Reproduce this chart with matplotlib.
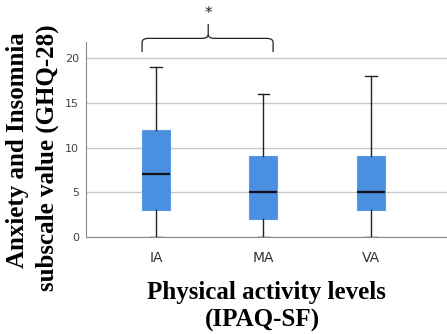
import numpy as np
import matplotlib
matplotlib.use("Agg")
import matplotlib.pyplot as plt
from matplotlib.path import Path
from matplotlib.patches import PathPatch

groups = ["IA", "MA", "VA"]
whisk_lo = [0, 0, 0]
q1 = [3, 2, 3]
med = [7, 5, 5]
q3 = [12, 9, 9]
whisk_hi = [19, 16, 18]

stats = []
for g, lo, a, m, b, hi in zip(groups, whisk_lo, q1, med, q3, whisk_hi):
    stats.append(dict(label=g, whislo=lo, q1=a, med=m, q3=b, whishi=hi, fliers=[]))

fig = plt.figure(figsize=(4.47, 3.34), dpi=100)
ax = fig.add_axes([0.192, 0.2904, 0.808, 0.584])

ax.bxp(stats, positions=[0, 1, 2], widths=0.26, patch_artist=True,
       boxprops=dict(facecolor="#4A8FE0", edgecolor="#5A9AE6", linewidth=0.8),
       medianprops=dict(color="#111111", linewidth=1.6),
       whiskerprops=dict(color="#222222", linewidth=1.0),
       capprops=dict(color="#222222", linewidth=1.0),
       capwidths=0.11, zorder=3)

ax.set_xlim(-0.654, 2.71)
ax.set_ylim(0, 21.8)
ax.set_yticks([0, 5, 10, 15, 20])
ax.yaxis.grid(True, color="#c8c8c8", linewidth=1.0, zorder=0)
ax.set_axisbelow(True)
for s in ["top", "right"]:
    ax.spines[s].set_visible(False)
for s in ["left", "bottom"]:
    ax.spines[s].set_color("#888888")
ax.tick_params(axis="both", length=0, labelsize=8, colors="#444444", pad=5)
ax.tick_params(axis="x", labelsize=10, pad=10, labelcolor="#333333")

# significance brace between IA and MA
bx0, bx1, bxm = -0.13, 1.09, 0.486
by0, by1, byt = 20.67, 22.2, 23.8
r = 0.06
rv = 0.45
verts = [(bx0, by0), (bx0, by1 - rv), (bx0, by1), (bx0 + r, by1),
         (bxm - r, by1), (bxm, by1), (bxm, by1 + rv), (bxm, byt)]
codes = [Path.MOVETO, Path.LINETO, Path.CURVE3, Path.CURVE3,
         Path.LINETO, Path.CURVE3, Path.CURVE3, Path.LINETO]
ax.add_patch(PathPatch(Path(verts, codes), fill=False, color="#222222",
                       linewidth=0.9, clip_on=False))
verts2 = [(bx1, by0), (bx1, by1 - rv), (bx1, by1), (bx1 - r, by1),
          (bxm + r, by1), (bxm, by1), (bxm, by1 + rv)]
codes2 = [Path.MOVETO, Path.LINETO, Path.CURVE3, Path.CURVE3,
          Path.LINETO, Path.CURVE3, Path.CURVE3]
ax.add_patch(PathPatch(Path(verts2, codes2), fill=False, color="#222222",
                       linewidth=0.9, clip_on=False))
ax.text(bxm, 25.0, "*", ha="center", va="center", fontsize=11, color="#222222",
        clip_on=False)

serif = ["Liberation Serif", "DejaVu Serif"]
fig.text(0.040, 0.55, "Anxiety and Insomnia", rotation=90, ha="center", va="center",
         family=serif, fontweight="bold", fontsize=18)
fig.text(0.106, 0.527, "subscale value (GHQ-28)", rotation=90, ha="center", va="center",
         family=serif, fontweight="bold", fontsize=18)
fig.text(0.597, 0.123, "Physical activity levels", ha="center", va="center",
         family=serif, fontweight="bold", fontsize=18)
fig.text(0.586, 0.042, "(IPAQ-SF)", ha="center", va="center",
         family=serif, fontweight="bold", fontsize=18)

fig.savefig("out.png", dpi=100)
